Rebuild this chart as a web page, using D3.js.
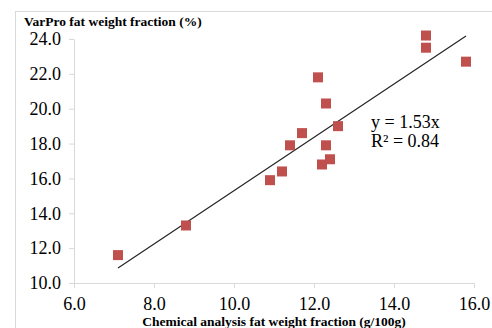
<!DOCTYPE html>
<html>
<head>
<meta charset="utf-8">
<script src="https://cdn.jsdelivr.net/npm/d3@7"></script>
<style>
  body { margin: 0; background: #fff; }
  svg text { font-family: "Liberation Serif", "Times New Roman", serif; fill: #000; }
</style>
</head>
<body>
<div class="chart"></div>
<script>
const chemical = [7.1, 8.8, 10.9, 11.2, 11.4, 11.7, 12.1, 12.2, 12.3, 12.3, 12.4, 12.6, 14.8, 14.8, 15.8]
const varpro = [11.6, 13.3, 15.9, 16.4, 17.9, 18.6, 21.8, 16.8, 17.9, 20.3, 17.1, 19.0, 24.2, 23.5, 22.7]
const xTicks = [6, 8, 10, 12, 14, 16]
const yTicks = [10, 12, 14, 16, 18, 20, 22, 24]
const slope = 1.53
const fitRange = [7.1, 15.8]
const fitText = ['y = 1.53x', 'R\u00b2 = 0.84']

const points = chemical.map((c, i) => ({ x: c, y: varpro[i] }))

createChart(points)

function createChart(points) {
  const width = 492
  const height = 328
  const grey = '#d9d9d9'
  const serif = '"Liberation Serif", "Times New Roman", serif'

  const svg = d3.select('.chart')
    .append('svg')
    .attr('width', width)
    .attr('height', height)

  // outer frame
  svg.append('rect')
    .attr('x', 15.5)
    .attr('y', 11.5)
    .attr('width', width)
    .attr('height', height)
    .attr('fill', 'none')
    .attr('stroke', grey)

  const x = d3.scaleLinear().domain([6, 16]).range([74, 474])
  const y = d3.scaleLinear().domain([10, 24]).range([283, 39])

  const xAxis = svg.append('g')
    .attr('transform', 'translate(0,283)')
    .call(d3.axisBottom(x).tickValues(xTicks).tickFormat(d3.format('.1f')).tickSize(5).tickSizeOuter(0).tickPadding(9))

  const yAxis = svg.append('g')
    .attr('transform', 'translate(74,0)')
    .call(d3.axisLeft(y).tickValues(yTicks).tickFormat(d3.format('.1f')).tickSize(5).tickSizeOuter(0).tickPadding(8))

  for (const ax of [xAxis, yAxis]) {
    ax.attr('font-family', null)
    ax.select('.domain').attr('stroke', grey)
    ax.selectAll('.tick line').attr('stroke', grey)
    ax.selectAll('.tick text')
      .style('font-family', serif)
      .style('font-size', '18px')
      .attr('fill', '#000')
  }

  // trendline
  svg.append('line')
    .attr('x1', x(fitRange[0]))
    .attr('y1', y(fitRange[0] * slope))
    .attr('x2', x(fitRange[1]))
    .attr('y2', y(fitRange[1] * slope))
    .attr('stroke', '#222')
    .attr('stroke-width', 1.2)

  const s = 10
  svg.selectAll('rect.pt')
    .data(points)
    .enter()
    .append('rect')
    .attr('class', 'pt')
    .attr('x', (d) => x(d.x) - s / 2)
    .attr('y', (d) => y(d.y) - s / 2)
    .attr('width', s)
    .attr('height', s)
    .attr('fill', '#c0504d')

  svg.selectAll('text.fit')
    .data(fitText)
    .enter()
    .append('text')
    .attr('class', 'fit')
    .attr('x', 371)
    .attr('y', (d, i) => 128 + i * 19)
    .style('font-size', '18px')
    .text((d) => d)

  svg.append('text')
    .attr('x', 24)
    .attr('y', 26)
    .style('font-size', '13.5px')
    .attr('font-weight', 'bold')
    .text('VarPro fat weight fraction (%)')

  svg.append('text')
    .attr('x', 274)
    .attr('y', 326)
    .attr('text-anchor', 'middle')
    .style('font-size', '13.5px')
    .attr('font-weight', 'bold')
    .text('Chemical analysis fat weight fraction (g/100g)')
}
</script>
</body>
</html>
